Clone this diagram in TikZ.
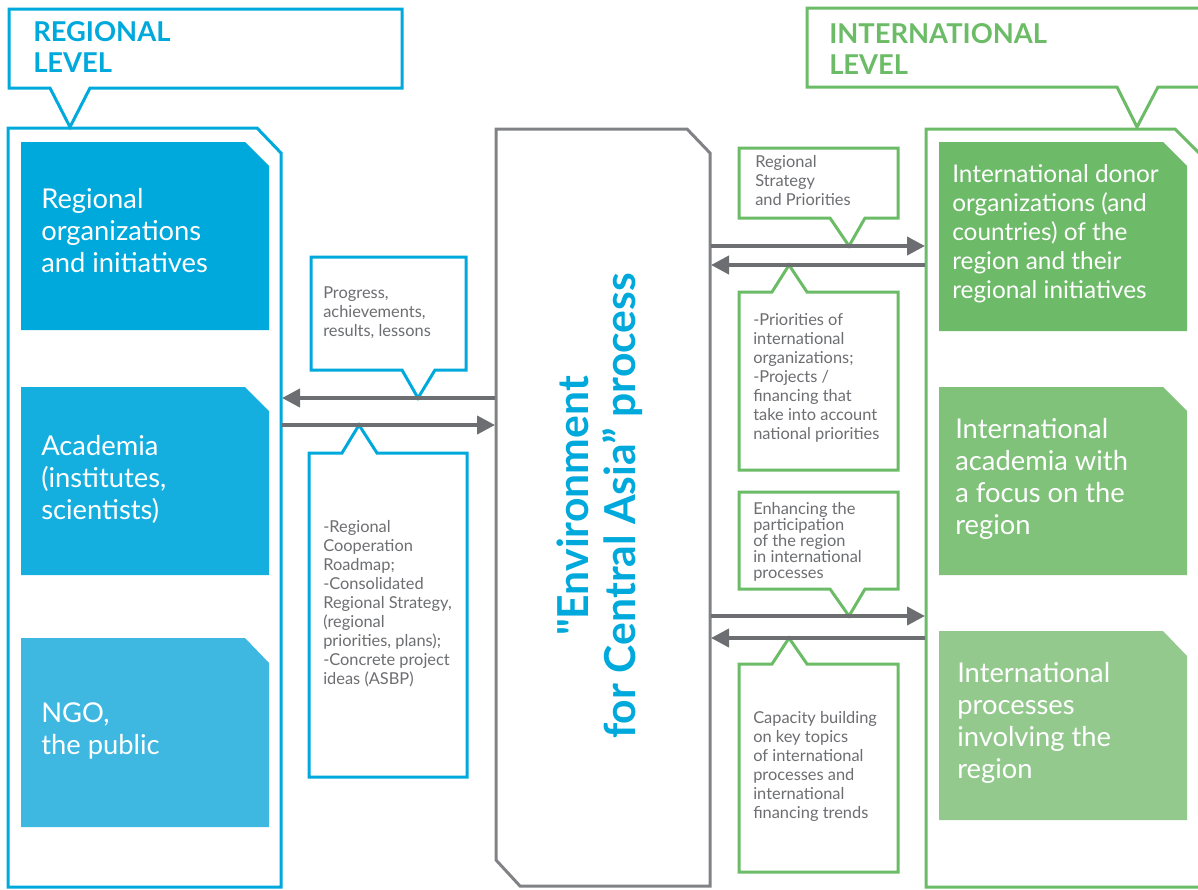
\documentclass[tikz,border=0pt]{standalone}
\usepackage{fontspec}
\setmainfont{Lato}[Ligatures=TeXOff]
\usetikzlibrary{arrows.meta, positioning}
\definecolor{regblue}{RGB}{0,169,219}
\definecolor{regmid}{RGB}{21,175,223}
\definecolor{reglight}{RGB}{63,184,225}
\definecolor{intgreen}{RGB}{108,188,103}
\definecolor{intdark}{RGB}{109,186,104}
\definecolor{intmid}{RGB}{128,194,122}
\definecolor{intlight}{RGB}{147,201,141}
\definecolor{framegray}{RGB}{128,130,133}
\definecolor{arrowgray}{RGB}{109,110,113}

\begin{document}
\begin{tikzpicture}[
  x=0.75pt, y=-0.75pt,
  panel/.style={line width=2.25pt, line join=miter},
  bubble/.style={line width=2.25pt, fill=white, line join=miter},
  flow/.style={-{Triangle[length=13.5pt, width=13.5pt]}, line width=3pt, draw=arrowgray},
  head/.style={font=\fontsize{20.5}{23.5}\selectfont\bfseries, align=left, anchor=west, inner sep=0pt},
  boxtxt/.style={font=\fontsize{20.5}{24}\selectfont, text=white, align=left, anchor=west, inner sep=0pt},
  note/.style={font=\fontsize{12.3}{14.25}\selectfont, text=arrowgray, align=left, anchor=west, inner sep=0pt}
]
  \useasboundingbox (0,0) rectangle (1198,889);

  % Level headers
  \draw[bubble, draw=regblue] (9,9) -- (402,9) -- (402,88) -- (90,88) -- (70,127) -- (50,88) -- (9,88) -- cycle;
  \node[head, text=regblue] (reghead) at (33,47) {REGIONAL\\LEVEL};
  \draw[bubble, draw=intgreen] (807,8) -- (1205,8) -- (1205,87) -- (1158,87) -- (1137,127) -- (1117,87) -- (807,87) -- cycle;
  \node[head, text=intgreen] (inthead) at (829,49) {INTERNATIONAL\\LEVEL};

  % Regional panel
  \draw[panel, draw=regblue] (8,128) -- (257,128) -- (281,153) -- (281,887) -- (8,887) -- cycle;
  \coordinate (regedge) at (282,0);
  \fill[regblue]   (21,142) -- (245,142) -- (269,166) -- (269,330) -- (21,330) -- cycle;
  \fill[regmid]    (21,387) -- (245,387) -- (269,411) -- (269,575) -- (21,575) -- cycle;
  \fill[reglight]  (21,638) -- (245,638) -- (269,663) -- (269,827) -- (21,827) -- cycle;
  \node[boxtxt] (reg1) at (41,231) {Regional\\organizations\\and initiatives};
  \node[boxtxt] (reg2) at (41,479) {Academia\\(institutes,\\scientists)};
  \node[boxtxt] (reg3) at (41,731) {NGO,\\the public};

  % International panel
  \draw[panel, draw=intgreen] (926,129) -- (1175,129) -- (1200,154) -- (1200,887) -- (926,887) -- cycle;
  \coordinate (intedge) at (925,0);
  \fill[intdark]  (939,142) -- (1163,142) -- (1187,166) -- (1187,331) -- (939,331) -- cycle;
  \fill[intmid]   (939,387) -- (1163,387) -- (1187,411) -- (1187,575) -- (939,575) -- cycle;
  \fill[intlight] (939,631) -- (1163,631) -- (1187,656) -- (1187,820) -- (939,820) -- cycle;
  \node[boxtxt, font=\fontsize{18.3}{21.75}\selectfont] (int1) at (952,234) {International donor\\organizations (and\\countries) of the\\region and their\\regional initiatives};
  \node[boxtxt] (int2) at (955,479) {International\\academia with\\a focus on the\\region};
  \node[boxtxt] (int3) at (957,723) {International\\processes\\involving the\\region};

  % Process in the middle
  \draw[panel, draw=framegray] (496,129) -- (687,129) -- (710,153) -- (710,886) -- (520,886) -- (496,860) -- cycle;
  \coordinate (midL) at (495,0);
  \coordinate (midR) at (711,0);
  \node[rotate=90, align=center, text=regblue, font=\fontsize{32}{35}\selectfont\bfseries] (proc) at (600,506) {"Environment\\for Central Asia” process};

  % Callouts on the left
  \draw[bubble, draw=regblue] (311,257) -- (466,257) -- (466,370) -- (435,370) -- (418,398) -- (402,370) -- (311,370) -- cycle;
  \coordinate (tprog) at (418,398);
  \node[note] (prog) at (323,313) {Progress,\\achievements,\\results, lessons};
  \draw[bubble, draw=regblue] (309,453) -- (342,453) -- (359,425) -- (377,453) -- (467,453) -- (467,777) -- (309,777) -- cycle;
  \coordinate (tcoop) at (359,425);
  \node[note] (coop) at (323,604) {-Regional\\Cooperation\\Roadmap;\\-Consolidated\\Regional Strategy,\\(regional\\priorities, plans);\\-Concrete project\\ideas (ASBP)};

  % Callouts on the right
  \draw[bubble, draw=intgreen] (739,148) -- (898,148) -- (898,218) -- (865,218) -- (849,246) -- (830,218) -- (739,218) -- cycle;
  \coordinate (tstrat) at (849,246);
  \node[note] (strat) at (755,181) {Regional\\Strategy\\and Priorities};
  \draw[bubble, draw=intgreen] (739,292) -- (772,292) -- (789,265) -- (807,292) -- (898,292) -- (898,470) -- (739,470) -- cycle;
  \coordinate (tprio) at (789,265);
  \node[note] (prio) at (753,378) {-Priorities of\\international\\organizations;\\-Projects /\\financing that\\take into account\\national priorities};
  \draw[bubble, draw=intgreen] (739,492) -- (898,492) -- (898,589) -- (865,589) -- (849,616) -- (830,589) -- (739,589) -- cycle;
  \coordinate (tenh) at (849,616);
  \node[note, font=\fontsize{12.3}{12}\selectfont] (enh) at (753,542) {Enhancing the\\participation\\of the region\\in international\\processes};
  \draw[bubble, draw=intgreen] (739,664) -- (772,664) -- (789,638) -- (807,664) -- (898,664) -- (898,872) -- (739,872) -- cycle;
  \coordinate (tcap) at (789,638);
  \node[note] (cap) at (753,766) {Capacity building\\on key topics\\of international\\processes and\\international\\financing trends};

  % Flows between the levels
  \draw[flow] (midL |- tprog) -- (regedge |- tprog);
  \draw[flow] (regedge |- tcoop) -- (midL |- tcoop);
  \draw[flow] (midR |- tstrat) -- (intedge |- tstrat);
  \draw[flow] (intedge |- tprio) -- (midR |- tprio);
  \draw[flow] (midR |- tenh) -- (intedge |- tenh);
  \draw[flow] (intedge |- tcap) -- (midR |- tcap);
\end{tikzpicture}
\end{document}
